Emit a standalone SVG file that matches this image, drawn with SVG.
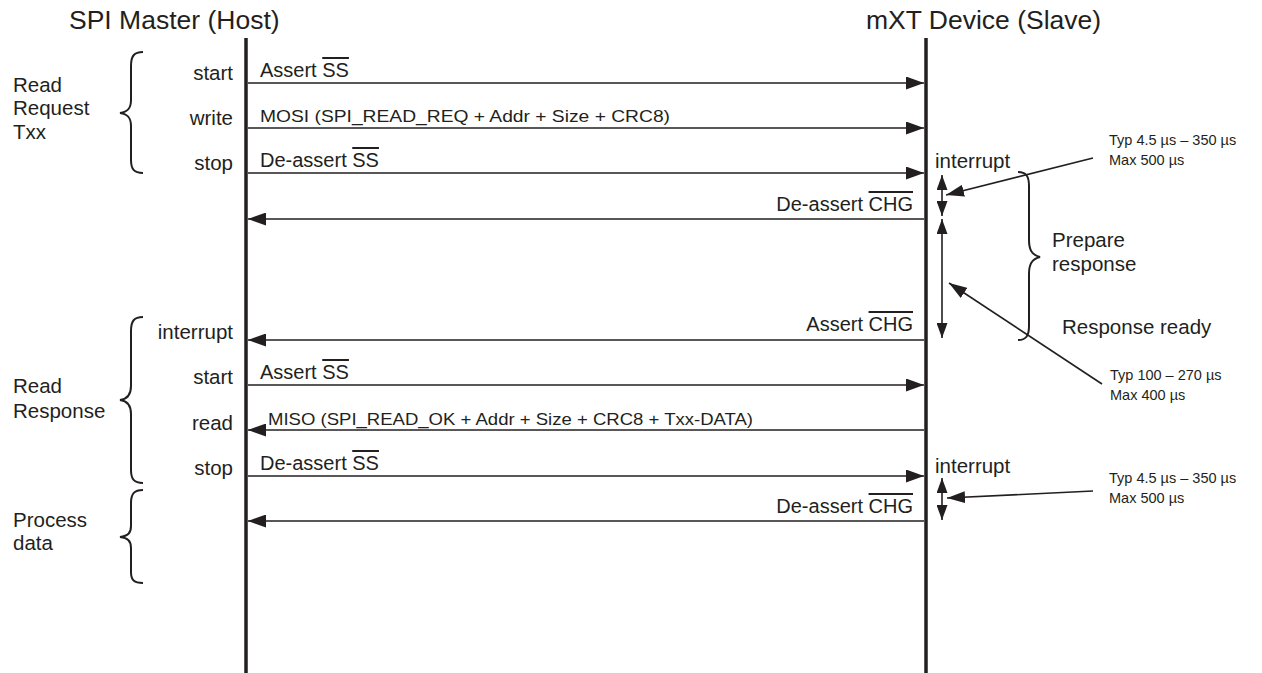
<svg xmlns="http://www.w3.org/2000/svg" width="1262" height="673" viewBox="0 0 1262 673">
<defs>
<style>
text{font-family:"Liberation Sans",Arial,sans-serif;fill:#231f20}
.title{font-size:26.5px}
.lbl{font-size:20.5px}
.msg{font-size:20px}
.sm{font-size:17px}
.note{font-size:14.5px}
.end{text-anchor:end}
.ov{text-decoration:overline}
.life{stroke:#231f20;stroke-width:3.5;fill:none}
.arr{stroke:#231f20;stroke-width:1.6;fill:none;marker-end:url(#ah)}
.dbl{stroke:#231f20;stroke-width:1.6;fill:none;marker-start:url(#ahs);marker-end:url(#ahs)}
.ptr{stroke:#231f20;stroke-width:1.6;fill:none;marker-end:url(#ahp)}
.brace{stroke:#231f20;stroke-width:2;fill:none}
</style>
<marker id="ah" viewBox="0 0 18 13" refX="18" refY="6.5" markerWidth="18" markerHeight="13" markerUnits="userSpaceOnUse" orient="auto-start-reverse"><path d="M0,0 L18,6.5 L0,13 z" fill="#231f20"/></marker>
<marker id="ahs" viewBox="0 0 15 11" refX="15" refY="5.5" markerWidth="15" markerHeight="11" markerUnits="userSpaceOnUse" orient="auto-start-reverse"><path d="M0,0 L15,5.5 L0,11 z" fill="#231f20"/></marker>
<marker id="ahp" viewBox="0 0 18 12" refX="18" refY="6" markerWidth="18" markerHeight="12" markerUnits="userSpaceOnUse" orient="auto"><path d="M0,0 L18,6 L0,12 z" fill="#231f20"/></marker>
</defs>
<rect width="1262" height="673" fill="#fff"/>

<g id="host">
<text class="title" x="69" y="29">SPI Master (Host)</text>
<line class="life" x1="246" y1="38" x2="246" y2="673"/>
</g>
<g id="device">
<text class="title" x="866" y="29">mXT Device (Slave)</text>
<line class="life" x1="926" y1="38" x2="926" y2="673"/>
</g>

<g id="phase-request">
<path class="brace" d="M143,52 C134,52 131,56 131,66 L131,100 C131,108 128,112 120,113 C128,114 131,118 131,126 L131,160 C131,169 134,173 143,173"/>
<text class="lbl" x="13" y="92">Read</text>
<text class="lbl" x="13" y="115">Request</text>
<text class="lbl" x="13" y="139">Txx</text>
</g>
<g id="phase-response">
<path class="brace" d="M143,317 C134,317 131,321 131,331 L131,386 C131,394 128,399 120,400 C128,401 131,406 131,414 L131,470 C131,479 134,483 143,483"/>
<text class="lbl" x="13" y="393">Read</text>
<text class="lbl" x="13" y="418">Response</text>
</g>
<g id="phase-process">
<path class="brace" d="M143,490 C134,490 131,494 131,503 L131,526 C131,533 128,536 120,537 C128,538 131,541 131,548 L131,572 C131,580 134,583 143,583"/>
<text class="lbl" x="13" y="527">Process</text>
<text class="lbl" x="13" y="550">data</text>
</g>
<g id="phase-prepare">
<path class="brace" d="M1018,172 C1026,172 1029,176 1029,186 L1029,240 C1029,250 1032,255 1040,257 C1032,259 1029,264 1029,274 L1029,326 C1029,336 1026,340 1018,340"/>
<text class="lbl" x="1052" y="247">Prepare</text>
<text class="lbl" x="1052" y="271">response</text>
<text class="lbl" x="1062" y="334">Response ready</text>
</g>

<g id="step-labels">
<text class="lbl end" x="233" y="80">start</text>
<text class="lbl end" x="233" y="125">write</text>
<text class="lbl end" x="233" y="170">stop</text>
<text class="lbl end" x="233" y="339">interrupt</text>
<text class="lbl end" x="233" y="384">start</text>
<text class="lbl end" x="233" y="430">read</text>
<text class="lbl end" x="233" y="475">stop</text>
<text class="lbl" x="935" y="168">interrupt</text>
<text class="lbl" x="935" y="473">interrupt</text>
</g>

<g id="connectors">
<line class="arr" x1="248" y1="83" x2="924" y2="83"/>
<text class="msg" x="260" y="77">Assert <tspan class="ov">SS</tspan></text>
<line class="arr" x1="248" y1="128" x2="924" y2="128"/>
<text class="sm" x="260" y="122" textLength="410" lengthAdjust="spacingAndGlyphs">MOSI (SPI_READ_REQ + Addr + Size + CRC8)</text>
<line class="arr" x1="248" y1="173" x2="924" y2="173"/>
<text class="msg" x="260" y="167">De-assert <tspan class="ov">SS</tspan></text>
<line class="arr" x1="924" y1="219" x2="248" y2="219"/>
<text class="msg end" x="913" y="211">De-assert <tspan class="ov">CHG</tspan></text>
<line class="arr" x1="924" y1="340" x2="248" y2="340"/>
<text class="msg end" x="913" y="331">Assert <tspan class="ov">CHG</tspan></text>
<line class="arr" x1="248" y1="385" x2="924" y2="385"/>
<text class="msg" x="260" y="379">Assert <tspan class="ov">SS</tspan></text>
<line class="arr" x1="924" y1="430" x2="248" y2="430"/>
<text class="sm" x="268" y="425" textLength="485" lengthAdjust="spacingAndGlyphs">MISO (SPI_READ_OK + Addr + Size + CRC8 + Txx-DATA)</text>
<line class="arr" x1="248" y1="476" x2="924" y2="476"/>
<text class="msg" x="260" y="470">De-assert <tspan class="ov">SS</tspan></text>
<line class="arr" x1="924" y1="521" x2="248" y2="521"/>
<text class="msg end" x="913" y="513">De-assert <tspan class="ov">CHG</tspan></text>

<line class="dbl" x1="942" y1="175" x2="942" y2="216"/>
<line class="dbl" x1="942" y1="219" x2="942" y2="338"/>
<line class="dbl" x1="942" y1="478" x2="942" y2="520"/>

<line class="ptr" x1="1093" y1="158" x2="946" y2="195"/>
<line class="ptr" x1="1102" y1="384" x2="949" y2="283"/>
<line class="ptr" x1="1093" y1="491" x2="947" y2="498"/>
</g>

<g id="notes">
<text class="note" x="1109" y="145">Typ 4.5 µs – 350 µs</text>
<text class="note" x="1109" y="165">Max 500 µs</text>
<text class="note" x="1110" y="380">Typ 100 – 270 µs</text>
<text class="note" x="1110" y="400">Max 400 µs</text>
<text class="note" x="1109" y="483">Typ 4.5 µs – 350 µs</text>
<text class="note" x="1109" y="503">Max 500 µs</text>
</g>
</svg>
